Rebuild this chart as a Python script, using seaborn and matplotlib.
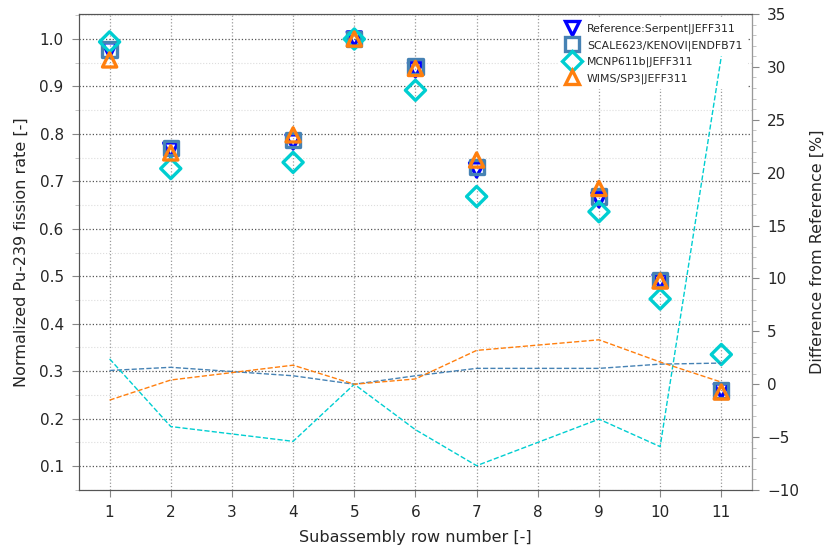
import matplotlib
matplotlib.use("Agg")
import matplotlib.pyplot as plt
from matplotlib.ticker import MultipleLocator
from matplotlib.lines import Line2D
import seaborn as sns
import pandas as pd

# Subassembly rows with results
rows = [1, 2, 4, 5, 6, 7, 9, 10, 11]

# Normalized Pu-239 fission rates
serpent = [0.977, 0.766, 0.783, 1.000, 0.935, 0.724, 0.661, 0.488, 0.258]
scale = [0.978, 0.770, 0.787, 1.000, 0.942, 0.731, 0.668, 0.492, 0.259]
mcnp = [0.994, 0.727, 0.740, 1.000, 0.892, 0.668, 0.636, 0.452, 0.335]
wims = [0.956, 0.760, 0.798, 1.000, 0.938, 0.745, 0.685, 0.490, 0.256]

# Differences from reference [%]
scale_diff = [1.3, 1.6, 0.8, 0.0, 0.8, 1.5, 1.5, 1.9, 2.0]
mcnp_diff = [2.4, -4.0, -5.4, 0.0, -4.3, -7.7, -3.3, -5.9, 31.0]
wims_diff = [-1.5, 0.4, 1.8, 0.0, 0.5, 3.2, 4.2, 2.1, 0.2]

labels = ["Reference:Serpent|JEFF311", "SCALE623/KENOVI|ENDFB71",
          "MCNP611b|JEFF311", "WIMS/SP3|JEFF311"]
colors = ["#0000ff", "#4682b4", "#00ced1", "#ff7f0e"]
markers = ["v", "s", "D", "^"]

sns.set_style("ticks")
plt.rcParams["font.family"] = ["DejaVu Sans"]

fig = plt.figure(figsize=(8.29, 5.52), dpi=100)
ax = fig.add_axes([0.0953, 0.1123, 0.8117, 0.8623])
ax2 = ax.twinx()

rates = pd.DataFrame({"row": rows * 4,
                      "rate": serpent + scale + mcnp + wims,
                      "code": sum([[l] * len(rows) for l in labels], [])})
diffs = pd.DataFrame({"row": rows * 3,
                      "diff": scale_diff + mcnp_diff + wims_diff,
                      "code": sum([[l] * len(rows) for l in labels[1:]], [])})

for lab, col, mk in zip(labels, colors, markers):
    sub = rates[rates["code"] == lab]
    sns.scatterplot(data=sub, x="row", y="rate", ax=ax, marker=mk, s=105,
                    facecolors="none", edgecolor=col, linewidths=2.4,
                    legend=False, zorder=3)

for lab, col in zip(labels[1:], colors[1:]):
    sub = diffs[diffs["code"] == lab]
    sns.lineplot(data=sub, x="row", y="diff", ax=ax2, color=col,
                 linestyle="--", linewidth=1.0, legend=False)

ax.set_xlim(0.5, 11.5)
ax.set_ylim(0.0494, 1.0527)
ax2.set_ylim(-10, 35)
ax.set_xticks(range(1, 12))
ax.yaxis.set_major_locator(MultipleLocator(0.1))
ax.yaxis.set_minor_locator(MultipleLocator(0.05))
ax2.yaxis.set_major_locator(MultipleLocator(5))
ax2.yaxis.set_minor_locator(MultipleLocator(1))

ax.grid(True, which="major", linestyle=":", color="#555555", linewidth=0.9)
ax.grid(True, which="minor", axis="y", linestyle=":", color="#dddddd", linewidth=0.8)
ax.xaxis.grid(True, which="major", linestyle=":", color="#999999", linewidth=0.9)

ax.set_xlabel("Subassembly row number [-]", fontsize=11.5, color="#262626",
              labelpad=7)
ax.set_ylabel("Normalized Pu-239 fission rate [-]", fontsize=11.5, color="#262626",
              labelpad=8)
ax2.set_ylabel("Difference from Reference [%]", fontsize=11.5, color="#262626",
               labelpad=8)

for a in (ax, ax2):
    a.tick_params(which="major", labelsize=11, length=5, color="#888888",
                  labelcolor="#262626", pad=6)
    a.tick_params(which="minor", length=3, color="#bbbbbb")
    for sp in a.spines.values():
        sp.set_visible(True)
        sp.set_color("#555555")
ax2.spines["right"].set_color("#999999")
ax2.set_xlabel("")

handles = [Line2D([], [], linestyle="none", marker=mk, markersize=10,
                  markerfacecolor="none", markeredgecolor=col,
                  markeredgewidth=2.4)
           for col, mk in zip(colors, markers)]
leg = ax.legend(handles, labels, loc="upper right", fontsize=7.8, frameon=True,
                framealpha=1, edgecolor="white", borderpad=0.5,
                handletextpad=0.6, handlelength=1.6, labelspacing=0.55,
                borderaxespad=0.4)
leg.get_frame().set_linewidth(0)

fig.savefig("out.png", dpi=100)
